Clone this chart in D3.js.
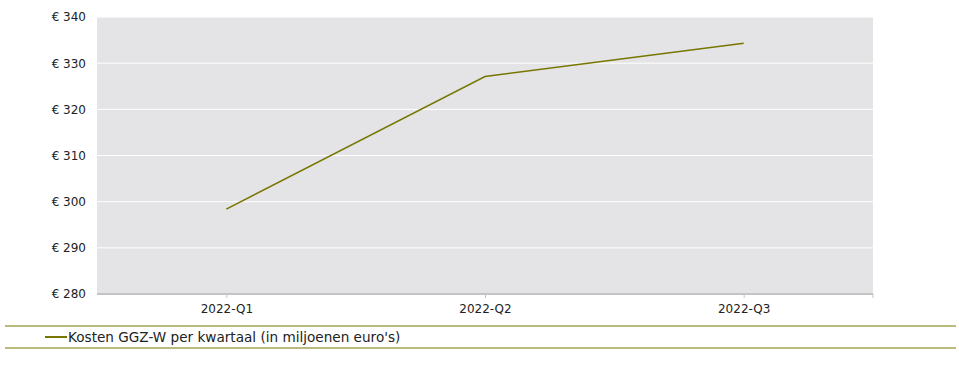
<!DOCTYPE html>
<html>
<head>
<meta charset="utf-8">
<script src="https://cdn.jsdelivr.net/npm/d3@7"></script>
<style>
  body { margin: 0; background: #fff; }
  text { font-family: Verdana, "DejaVu Sans", sans-serif; fill: #222; }
</style>
</head>
<body>
<div id="chart"></div>
<script>
// data
const quarters = ["2022-Q1", "2022-Q2", "2022-Q3"];
const kosten = [298.4, 327.1, 334.3];
const yTicks = [280, 290, 300, 310, 320, 330, 340];
const seriesName = "Kosten GGZ-W per kwartaal (in miljoenen euro's)";

const w = 959, h = 373;
const margin = { top: 17, right: 86, bottom: 79, left: 97 };
const innerW = w - margin.left - margin.right;
const innerH = h - margin.top - margin.bottom;
const olive = "#767600";

let svg = d3.select("#chart").append("svg")
    .attr("width", w)
    .attr("height", h);

let chartGroup = svg.append("g")
    .attr("transform", `translate(${margin.left},${margin.top})`);

const xScale = d3.scalePoint()
    .domain(quarters)
    .range([0, innerW])
    .padding(0.5);

const yScale = d3.scaleLinear()
    .domain([280, 340])
    .range([innerH, 0]);

chartGroup.append("rect")
    .attr("width", innerW)
    .attr("height", innerH)
    .attr("fill", "#e4e4e6");

// gridlines
chartGroup.selectAll(".grid")
    .data(yTicks.slice(1))
    .enter().append("line")
    .attr("x1", 0).attr("x2", innerW)
    .attr("y1", d => yScale(d)).attr("y2", d => yScale(d))
    .attr("stroke", "#fff")
    .attr("stroke-width", 1);

// y axis labels
const yAxis = d3.axisLeft(yScale)
    .tickValues(yTicks)
    .tickSize(0)
    .tickPadding(11)
    .tickFormat(d => "€ " + d);
chartGroup.append("g").call(yAxis)
    .call(g => g.select(".domain").remove())
    .selectAll("text").style("font-size", "12px");

// x axis
const xAxis = d3.axisBottom(xScale)
    .tickSize(4)
    .tickPadding(6);
const xg = chartGroup.append("g")
    .attr("transform", `translate(0,${innerH})`)
    .call(xAxis);
xg.select(".domain").attr("stroke", "#c4c4c4").attr("stroke-width", 2)
    .attr("d", `M0,0H${innerW}`);
xg.selectAll(".tick line").attr("stroke", "#c4c4c4");
xg.selectAll("text").style("font-size", "12px");
xg.append("line")
    .attr("x1", innerW).attr("x2", innerW)
    .attr("y1", 0).attr("y2", 4)
    .attr("stroke", "#c4c4c4");

// line
const line = d3.line()
    .x((d, i) => xScale(quarters[i]))
    .y(d => yScale(d));
chartGroup.append("path")
    .datum(kosten)
    .attr("d", line)
    .attr("fill", "none")
    .attr("stroke", olive)
    .attr("stroke-width", 1.5);

// legend
const legend = svg.append("g");
legend.append("line")
    .attr("x1", 5).attr("x2", 956).attr("y1", 326).attr("y2", 326)
    .attr("stroke", olive);
legend.append("line")
    .attr("x1", 5).attr("x2", 956).attr("y1", 348).attr("y2", 348)
    .attr("stroke", olive);
legend.append("line")
    .attr("x1", 45).attr("x2", 67).attr("y1", 337).attr("y2", 337)
    .attr("stroke", olive).attr("stroke-width", 2);
legend.append("text")
    .attr("x", 68).attr("y", 342)
    .style("font-size", "13.6px")
    .text(seriesName);
</script>
</body>
</html>
